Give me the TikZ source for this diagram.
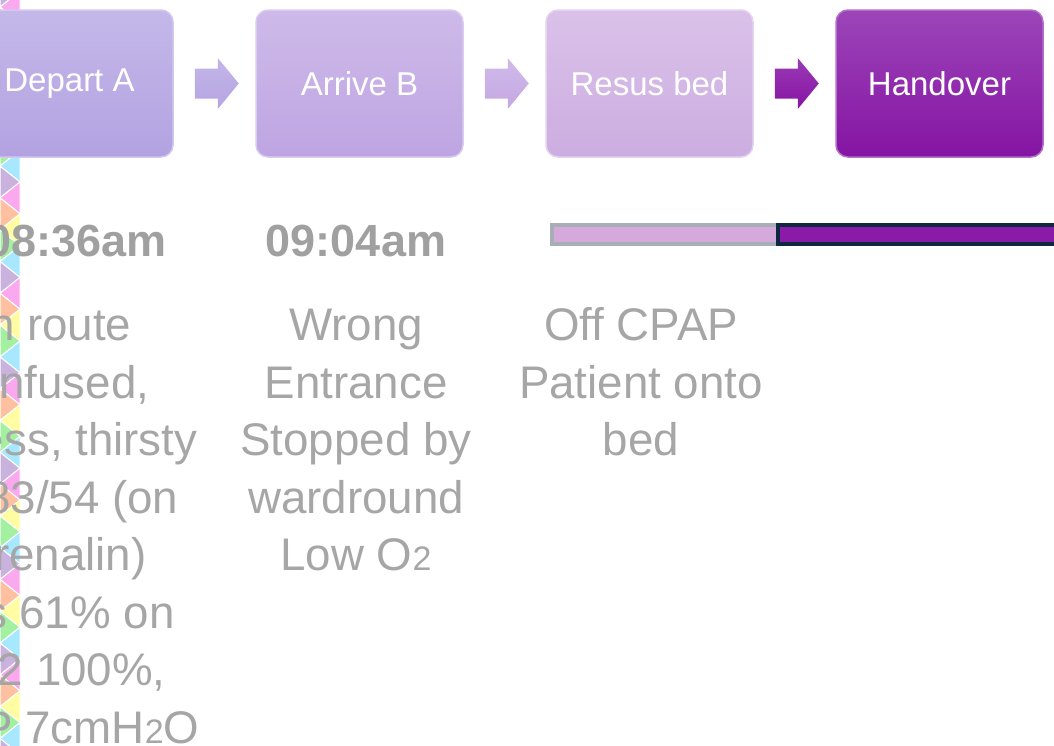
\documentclass[tikz,border=0pt]{standalone}
\usepackage{fontspec}
\setmainfont{Liberation Sans}
\usetikzlibrary{calc,positioning}

\definecolor{strip0}{HTML}{C9B2DD}
\definecolor{strip1}{HTML}{FAA9EF}
\definecolor{strip2}{HTML}{FFC09F}
\definecolor{strip3}{HTML}{FFFCA2}
\definecolor{strip4}{HTML}{A2F0A0}
\definecolor{strip5}{HTML}{A7E8FF}
\definecolor{noteGray}{HTML}{A6A6A6}
\definecolor{timeGray}{HTML}{A0A0A0}
\definecolor{barLight}{HTML}{D5A9DC}
\definecolor{barGray}{HTML}{A7AEB5}
\definecolor{barDark}{HTML}{8A1AA8}
\definecolor{barNavy}{HTML}{0E2841}
% box colours: top, bottom, rim
\definecolor{departTop}{HTML}{C4B8E9}
\definecolor{departBot}{HTML}{B3A2E1}
\definecolor{departRim}{HTML}{D2C8F0}
\definecolor{arriveTop}{HTML}{CEBAE9}
\definecolor{arriveBot}{HTML}{BEA5E2}
\definecolor{arriveRim}{HTML}{DACCF1}
\definecolor{resusTop}{HTML}{DAC1E9}
\definecolor{resusBot}{HTML}{CCADE0}
\definecolor{resusRim}{HTML}{E4D2F0}
\definecolor{handoverTop}{HTML}{9C45B8}
\definecolor{handoverBot}{HTML}{8514A3}
\definecolor{handoverRim}{HTML}{B46FCB}
% arrow colours
\definecolor{arrowATop}{HTML}{C3B5E8}
\definecolor{arrowABot}{HTML}{B6A4E1}
\definecolor{arrowBTop}{HTML}{D0BAEA}
\definecolor{arrowBBot}{HTML}{C4A8E2}
\definecolor{arrowCTop}{HTML}{9A3AB5}
\definecolor{arrowCBot}{HTML}{8614A4}

\newcommand{\subtwo}{{\fontsize{34}{34}\selectfont 2}}

\tikzset{
  stage/.style={rounded corners=12, minimum width=207, minimum height=147,
    inner sep=0, text=white, font=\fontsize{33}{40}\selectfont, line width=1.5,
    top color=#1Top, bottom color=#1Bot, draw=#1Rim},
  timelabel/.style={anchor=base, inner sep=0, text=timeGray,
    font=\fontsize{45}{57.5}\selectfont\bfseries},
  notes/.style={anchor=north, inner sep=0, align=center, text=noteGray,
    font=\fontsize{45.7}{57.5}\selectfont},
}

\begin{document}
\begin{tikzpicture}[x=1pt,y=-1pt]
  \useasboundingbox (0,0) rectangle (1054,745);
  \clip (0,0) rectangle (1054,745);

  % zigzag strip on the left edge
  \foreach \k in {0,...,50}{
    \pgfmathtruncatemacro{\c}{mod(\k,6)}
    \pgfmathtruncatemacro{\odd}{mod(\k,2)}
    \pgfmathsetmacro{\ya}{-24.7+15.9*\k}
    \pgfmathsetmacro{\xa}{20*\odd}
    \pgfmathsetmacro{\xb}{20-\xa}
    \filldraw[draw=white, line width=1, fill=strip\c]
      (\xa,\ya) -- (\xb,\ya+15.9) -- (\xa,\ya+31.8) -- cycle;
  }

  % process boxes
  \node[stage=depart] (depart) at (69.5,83.5) {Depart A};
  \node[stage=arrive, right=81.5 of depart] (arrive) {Arrive B};
  \node[stage=resus, right=81.5 of arrive] (resus) {Resus bed};
  \node[stage=handover, right=81.5 of resus] (handover) {Handover};

  % block arrows
  \foreach \a/\col in {depart/arrowA, arrive/arrowB, resus/arrowC}
    \path[top color=\col Top, bottom color=\col Bot]
      ($(\a.east)+(21,-15)$) -- ++(23,0) -- ++(0,-10.5) -- ++(21,25.5)
      -- ++(-21,25.5) -- ++(0,-10.5) -- ++(-23,0) -- cycle;

  % times
  \node[timelabel] (timeA) at (76.5,256) {08:36am};
  \node[timelabel] (timeB) at (356,256) {09:04am};

  % progress bar
  \filldraw[fill=barLight, draw=barGray, line width=4] (552,225) rectangle (780,244);
  \filldraw[fill=barDark, draw=barNavy, line width=4] (778,225) rectangle (1070,244);

  % notes
  \node[notes] (notesA) at (45,300.5) {\strut En route\\Confused,\\restless, thirsty\\BP 83/54 (on\\adrenalin)\\Sats 61\% on\\FiO2 100\%,\\PEEP 7cmH\subtwo O};
  \node[notes] (notesB) at (356,300.5) {\strut Wrong\\Entrance\\Stopped by\\wardround\\Low O\subtwo};
  \node[notes] (notesC) at (641,300.5) {\strut Off CPAP\\Patient onto\\bed};
\end{tikzpicture}
\end{document}
